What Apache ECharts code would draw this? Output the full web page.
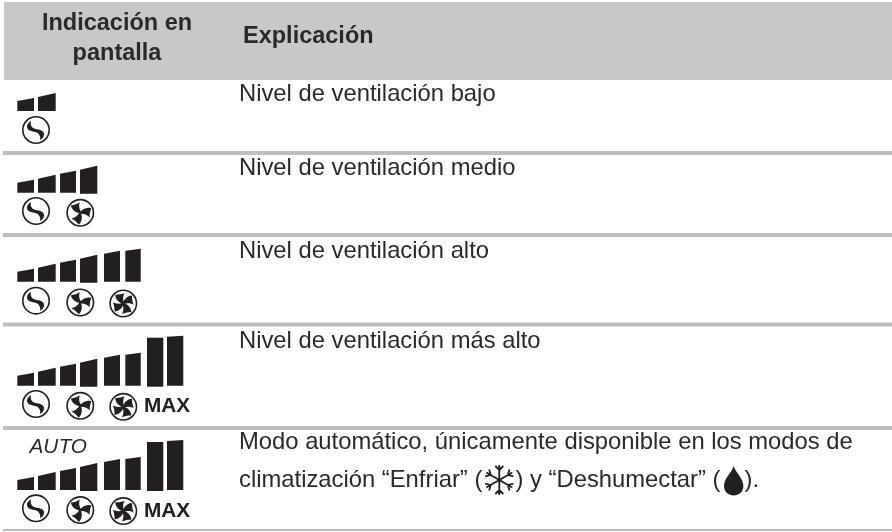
<!DOCTYPE html>
<html>
<head>
<meta charset="utf-8">
<style>
html, body { margin: 0; padding: 0; background: #fff; }
#main { width: 892px; height: 532px; }
</style>
<script src="https://cdn.jsdelivr.net/npm/echarts@6/dist/echarts.min.js"></script>
</head>
<body>
<div id="main"></div>
<script>
// table content
const headerLeft = ['Indicación en', 'pantalla'];
const headerRight = 'Explicación';
const explanations = [
    'Nivel de ventilación bajo',
    'Nivel de ventilación medio',
    'Nivel de ventilación alto',
    'Nivel de ventilación más alto',
    'Modo automático, únicamente disponible en los modos de'
];
const lastLineParts = ['climatización “Enfriar” (', ') y “Deshumectar” (', ').'];

// display icons per row
const barCounts = [2, 4, 6, 8, 8];
const fanCounts = [1, 2, 3, 3, 3];
const maxLabels = ['', '', '', 'MAX', 'MAX'];
const autoLabels = ['', '', '', '', 'AUTO'];

// height of each level bar, left and right edge
const barLowHeights = [10, 14, 19, 23, 28, 31, 48, 49];
const barHighHeights = [13, 18, 22, 27, 31, 33, 48, 50];

// layout, in pixels of the 892x532 page
const barLefts = [17.3, 38, 60, 80, 104, 125.3, 147, 167];
const barRights = [34, 55.7, 76, 97.3, 120, 140.7, 163.3, 183.3];
const barDrops = [0, 0, 0, 1, 0, 0, 1, 0];
const rowBaselines = [111, 192.7, 281.7, 385.7, 490];
const rowFanY = [130, 211, 300.7, 404, 508.3];
const rowTextY = [94, 168.5, 251.5, 341.5, 442.5];
const rowLineY = [153, 235, 324.5, 428, 530];
const rowLineH = [4, 4, 4, 4, 2];
const fanX = [36, 80.3, 123.3];
const fanDy = [0, 1.8, 2.8];
const fanR = 13.2;
const ink = '#231f20';
const textInk = '#2b292a';
const font = '"Liberation Sans", Arial, sans-serif';
const bodySize = 23.8;
const headSize = 23.5;

// blade shapes in a unit circle, pointing up
const fanBlade = [
    ['M', 0.04, 0.06], ['C', -0.28, -0.1, -0.5, -0.42, -0.42, -0.8, -0.15, -0.72, 0.05, -0.7, 0.3, -0.74],
    ['C', 0.12, -0.55, 0.02, -0.3, 0.08, 0]
];
const sBlade = [
    ['M', -0.38, -0.68], ['C', -0.7, -0.5, -0.78, -0.15, -0.55, 0, -0.3, 0.15, 0.05, 0.1, 0.2, 0.3],
    ['C', 0.32, 0.45, 0.35, 0.6, 0.3, 0.78, 0.6, 0.6, 0.72, 0.3, 0.5, 0.1],
    ['C', 0.25, -0.1, -0.1, 0, -0.3, -0.2, -0.4, -0.35, -0.42, -0.5, -0.38, -0.68]
];

function shapePath(shape, cx, cy, r, deg) {
    const a = deg * Math.PI / 180, c = Math.cos(a), s = Math.sin(a);
    return shape.map(seg => {
        const out = [seg[0]];
        for (let i = 1; i < seg.length; i += 2) {
            out.push((cx + r * (seg[i] * c - seg[i + 1] * s)).toFixed(2));
            out.push((cy + r * (seg[i] * s + seg[i + 1] * c)).toFixed(2));
        }
        return out.join(' ');
    }).join(' ') + ' Z';
}

// one entry per bar / fan, built from the lists above
const barData = [];
barCounts.forEach((n, row) => {
    for (let b = 0; b < n; b++) barData.push([row, b, barLowHeights[b], barHighHeights[b]]);
});
const fanData = [];
fanCounts.forEach((n, row) => {
    for (let f = 0; f < n; f++) fanData.push([row, f]);
});

const texts = [];
function addText(str, x, y, size, weight, align, style, color) {
    texts.push({ str, x, y, size, weight, align, style: style || 'normal', color: color || textInk });
}
addText(headerLeft[0], 117, 24, headSize, 'bold', 'center');
addText(headerLeft[1], 117, 54, headSize, 'bold', 'center');
addText(headerRight, 243, 36.5, headSize, 'bold', 'left');
explanations.forEach((line, i) => {
    addText(line, 239, rowTextY[i], bodySize, 'normal', 'left');
});
addText(lastLineParts[0], 239, 480, bodySize, 'normal', 'left');
addText(lastLineParts[1], 515.5, 480, bodySize, 'normal', 'left');
addText(lastLineParts[2], 744.5, 480, bodySize, 'normal', 'left');
maxLabels.forEach((s, i) => {
    if (s) addText(s, 144, rowFanY[i] + 2.5, 20.8, 'bold', 'left', 'normal', ink);
});
autoLabels.forEach((s, i) => {
    if (s) addText(s, 29.5, 447.5, 20.8, 'normal', 'left', 'italic');
});

const myChart = echarts.init(document.getElementById('main'), null, { renderer: 'canvas' });

const option = {
    animation: false,
    backgroundColor: '#fff',
    grid: { left: 0, right: 0, top: 0, bottom: 0 },
    xAxis: { type: 'value', min: 0, max: 892, show: false },
    yAxis: { type: 'value', min: 0, max: 532, inverse: true, show: false },
    series: [
        {
            // header band and row rules
            type: 'custom',
            coordinateSystem: 'cartesian2d',
            silent: true,
            data: rowLineY.map((y, i) => [y, rowLineH[i]]).concat([[41, 78]]),
            renderItem(params, api) {
                const y = api.value(0), h = api.value(1);
                const isHeader = params.dataIndex === rowLineY.length;
                const p0 = api.coord([isHeader ? 4 : 3, y - h / 2]);
                const p1 = api.coord([892, y + h / 2]);
                return {
                    type: 'rect',
                    shape: { x: p0[0], y: p0[1], width: p1[0] - p0[0], height: p1[1] - p0[1] },
                    style: { fill: isHeader ? '#c7c8ca' : '#bcbec0' }
                };
            }
        },
        {
            // level bars
            type: 'custom',
            coordinateSystem: 'cartesian2d',
            silent: true,
            data: barData,
            renderItem(params, api) {
                const row = api.value(0), b = api.value(1);
                const base = rowBaselines[row] + barDrops[b];
                const points = [
                    api.coord([barLefts[b], base]),
                    api.coord([barLefts[b], rowBaselines[row] - api.value(2)]),
                    api.coord([barRights[b], rowBaselines[row] - api.value(3)]),
                    api.coord([barRights[b], base])
                ];
                return { type: 'polygon', shape: { points }, style: { fill: ink } };
            }
        },
        {
            // fan icons: 1 = S shape, 2 = three blades, 3 = four blades
            type: 'custom',
            coordinateSystem: 'cartesian2d',
            silent: true,
            data: fanData,
            renderItem(params, api) {
                const row = api.value(0), f = api.value(1);
                const c = api.coord([fanX[f], rowFanY[row] + fanDy[f]]);
                const children = [{
                    type: 'circle',
                    shape: { cx: c[0], cy: c[1], r: fanR },
                    style: { fill: 'none', stroke: ink, lineWidth: 1.6 }
                }];
                const angles = f === 0 ? [0] : f === 1 ? [-25, 95, 215] : [-15, 75, 165, 255];
                angles.forEach(a => {
                    children.push({
                        type: 'path',
                        shape: { pathData: shapePath(f === 0 ? sBlade : fanBlade, c[0], c[1], fanR, a) },
                        style: { fill: ink }
                    });
                });
                return { type: 'group', children };
            }
        },
        {
            // inline symbols of the last row: snowflake and drop
            type: 'custom',
            coordinateSystem: 'cartesian2d',
            silent: true,
            data: [[499.3, 480], [733.7, 481]],
            renderItem(params, api) {
                const c = api.coord([api.value(0), api.value(1)]);
                if (params.dataIndex === 1) {
                    const x = c[0], y = c[1];
                    const d = `M ${x} ${y - 15} C ${x + 2} ${y - 8} ${x + 9.7} ${y - 3} ${x + 9.7} ${y + 5} C ${x + 9.7} ${y + 11} ${x + 5} ${y + 14.5} ${x} ${y + 14.5} C ${x - 5} ${y + 14.5} ${x - 9.7} ${y + 11} ${x - 9.7} ${y + 5} C ${x - 9.7} ${y - 3} ${x - 2} ${y - 8} ${x} ${y - 15} Z`;
                    return { type: 'path', shape: { pathData: d }, style: { fill: ink } };
                }
                let d = '';
                [90, 30, 150, 210, 270, 330].forEach(deg => {
                    const a = deg * Math.PI / 180;
                    const ux = Math.cos(a), uy = Math.sin(a);
                    const tx = c[0] + ux * 15, ty = c[1] + uy * 15;
                    const mx = c[0] + ux * 10, my = c[1] + uy * 10;
                    d += `M ${c[0]} ${c[1]} L ${tx} ${ty} `;
                    d += `M ${mx} ${my} L ${mx + (ux - uy) * 4} ${my + (uy + ux) * 4} `;
                    d += `M ${mx} ${my} L ${mx + (ux + uy) * 4} ${my + (uy - ux) * 4} `;
                });
                return { type: 'path', shape: { pathData: d }, style: { fill: 'none', stroke: ink, lineWidth: 1.8 } };
            }
        },
        {
            // every text of the table
            type: 'custom',
            coordinateSystem: 'cartesian2d',
            silent: true,
            data: texts.map((t, i) => [t.x, t.y, i]),
            renderItem(params, api) {
                const t = texts[api.value(2)];
                const p = api.coord([api.value(0), api.value(1)]);
                return {
                    type: 'text',
                    x: p[0],
                    y: p[1],
                    style: {
                        text: t.str,
                        fill: t.color,
                        font: `${t.style} ${t.weight} ${t.size}px ${font}`,
                        textAlign: t.align,
                        textVerticalAlign: 'middle'
                    }
                };
            }
        }
    ]
};

myChart.setOption(option);
</script>
</body>
</html>
